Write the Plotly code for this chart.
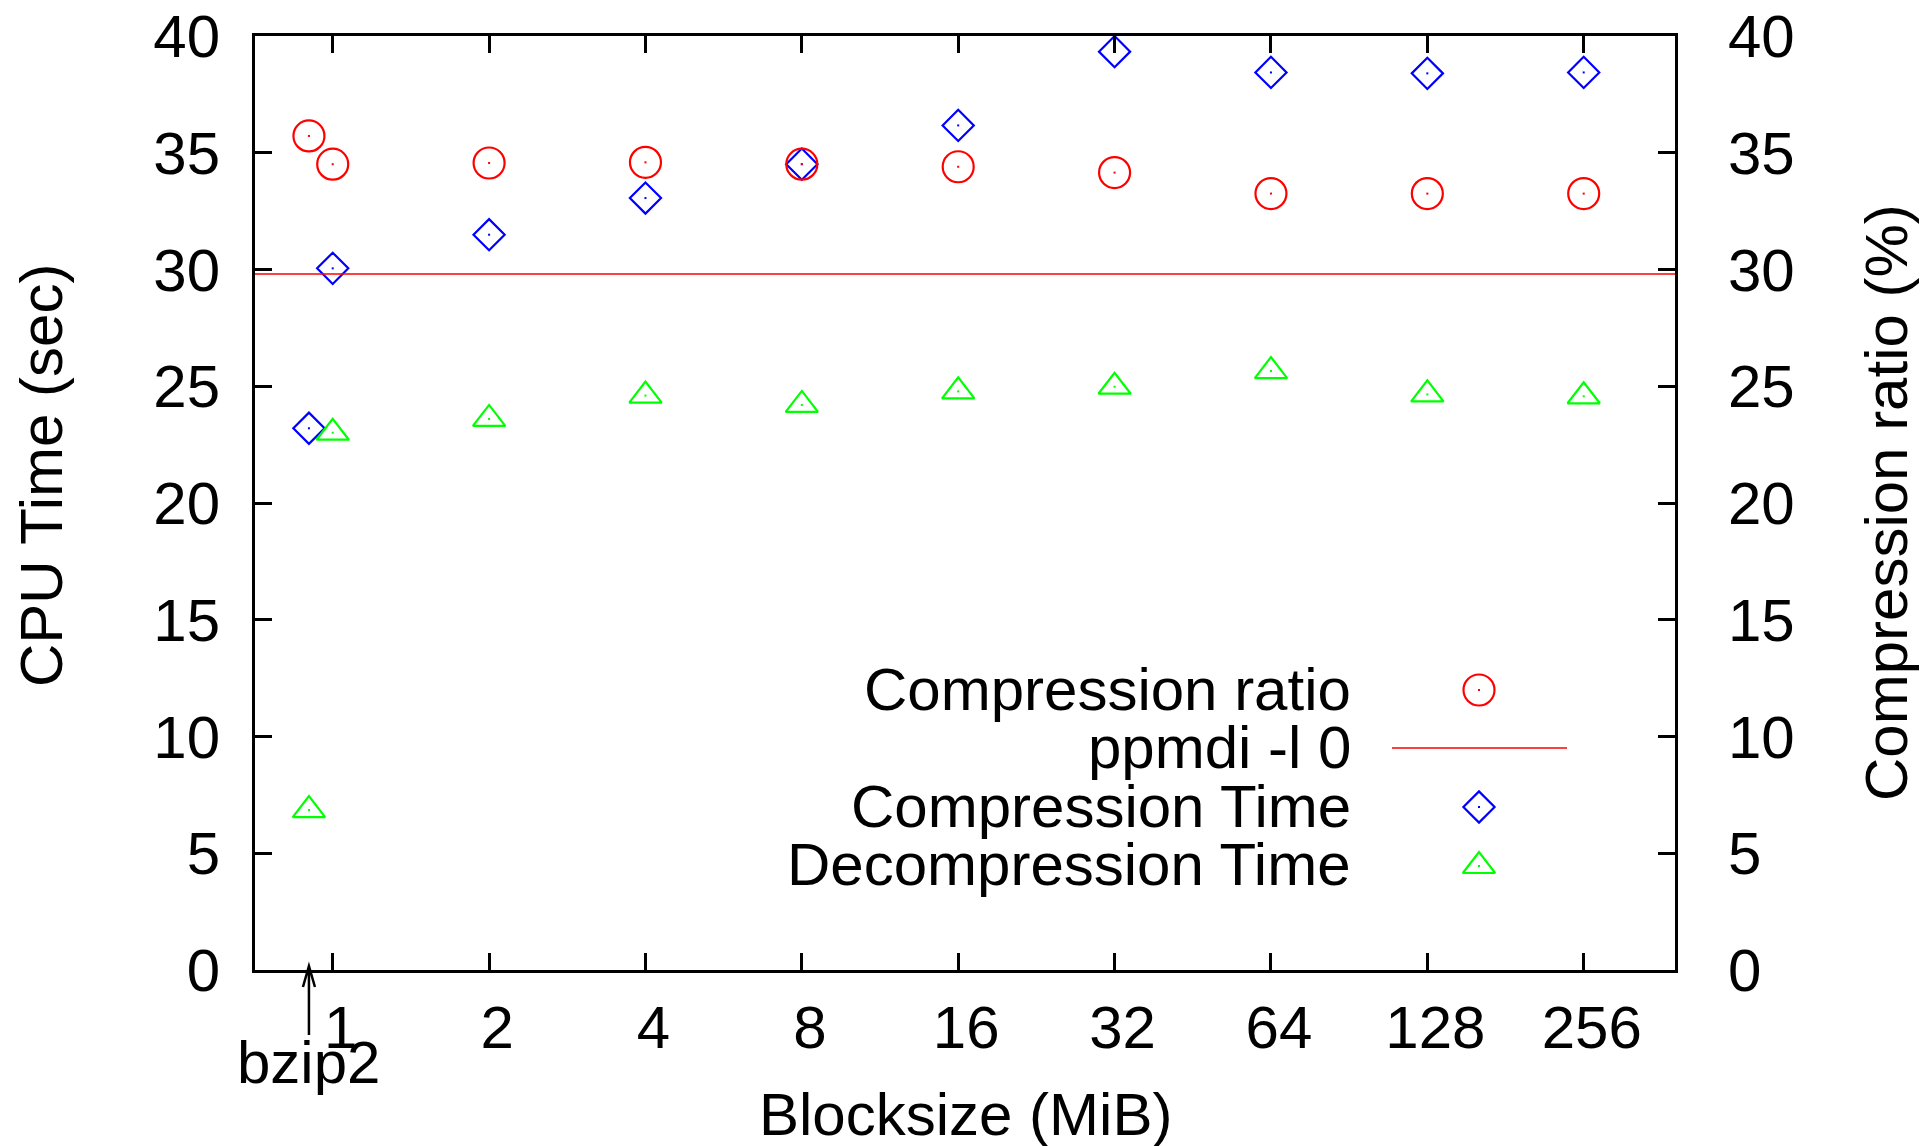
import math
import plotly.graph_objects as go

# ---------------- data ----------------
blocksize = [0.9, 1, 2, 4, 8, 16, 32, 64, 128, 256]          # MiB (0.9 = bzip2)
compression_ratio = [35.72, 34.51, 34.56, 34.59, 34.51, 34.40, 34.15, 33.25, 33.25, 33.25]
compression_time = [23.20, 30.05, 31.49, 33.06, 34.51, 36.17, 39.33, 38.44, 38.40, 38.44]
decompression_time = [6.85, 23.01, 23.60, 24.60, 24.20, 24.78, 24.98, 25.65, 24.65, 24.57]
ppmdi_ratio = 29.81
bzip2_blocksize = 0.9

x_tick_vals = [1, 2, 4, 8, 16, 32, 64, 128, 256]
x_tick_text = ["1", "2", "4", "8", "16", "32", "64", "128", "256"]
y_tick_vals = [0, 5, 10, 15, 20, 25, 30, 35, 40]

legend_names = ["Compression ratio", "ppmdi -l 0", "Compression Time", "Decompression Time"]

# ---------------- style ----------------
FONT = "Liberation Sans, Arial, sans-serif"
FS = 60
RED, BLUE, GREEN = "#ff0000", "#0000ff", "#00ff00"
W, H = 1923, 1146
L, R, T, B = 255, 248, 36, 176
PW, PH = W - L - R, H - T - B
AXW = 2.8


def px_x(px):
    return (px - L) / PW


def px_y(py):
    return (H - B - py) / PH


fig = go.Figure()

series = [
    (compression_ratio, "y2", "circle-open", 31, RED, legend_names[0]),
    (compression_time, "y", "diamond-open", 24, BLUE, legend_names[2]),
    (decompression_time, "y", "triangle-up-open", 28, GREEN, legend_names[3]),
]
for vals, yax, sym, size, col, name in series:
    fig.add_trace(go.Scatter(
        x=blocksize, y=vals, yaxis=yax, mode="markers", name=name,
        marker=dict(symbol=sym, size=size, color=col, line=dict(color=col, width=2.2)),
        cliponaxis=False, showlegend=False))
    fig.add_trace(go.Scatter(
        x=blocksize, y=vals, yaxis=yax, mode="markers", hoverinfo="skip",
        marker=dict(symbol="square", size=2, color=col, line=dict(width=0)),
        cliponaxis=False, showlegend=False))

# ppmdi reference line
fig.add_shape(type="line", xref="x domain", x0=0, x1=1, yref="y2", y0=ppmdi_ratio, y1=ppmdi_ratio,
              line=dict(color=RED, width=1.6))

# bzip2 arrow (stem + open head), anchored at the bzip2 block size on the x axis
fig.add_shape(type="path", xref="x", yref="paper", xsizemode="pixel", ysizemode="pixel",
              xanchor=bzip2_blocksize, yanchor=0,
              path="M0,-65 L0,4 M-6,-17 L0,4 L6,-17",
              line=dict(color="black", width=2.5))
fig.add_annotation(x=math.log10(bzip2_blocksize), xref="x", yref="paper", y=0,
                   yshift=-(1062 - (H - B)), text="bzip2", showarrow=False,
                   font=dict(family=FONT, size=FS, color="black"),
                   xanchor="center", yanchor="middle")

# ---------- custom legend (text left, sample right) ----------
leg_y = [689, 747, 806, 864]
for name, py in zip(legend_names, leg_y):
    fig.add_annotation(x=px_x(1353), y=px_y(py), xref="paper", yref="paper", text=name,
                       showarrow=False, xanchor="right", yanchor="middle",
                       font=dict(family=FONT, size=FS, color="black"))

leg_marker_x = px_x(1479)
fig.add_trace(go.Scatter(x=[leg_marker_x], y=[px_y(690)], xaxis="x3", yaxis="y3", mode="markers",
                         marker=dict(symbol="circle-open", size=31, color=RED, line=dict(color=RED, width=2.2)),
                         showlegend=False, hoverinfo="skip", cliponaxis=False))
fig.add_trace(go.Scatter(x=[px_x(1392), px_x(1567)], y=[px_y(748), px_y(748)], xaxis="x3", yaxis="y3",
                         mode="lines", line=dict(color=RED, width=1.6),
                         showlegend=False, hoverinfo="skip", cliponaxis=False))
fig.add_trace(go.Scatter(x=[leg_marker_x], y=[px_y(807)], xaxis="x3", yaxis="y3", mode="markers",
                         marker=dict(symbol="diamond-open", size=24, color=BLUE, line=dict(color=BLUE, width=2.2)),
                         showlegend=False, hoverinfo="skip", cliponaxis=False))
fig.add_trace(go.Scatter(x=[leg_marker_x], y=[px_y(866)], xaxis="x3", yaxis="y3", mode="markers",
                         marker=dict(symbol="triangle-up-open", size=28, color=GREEN, line=dict(color=GREEN, width=2.2)),
                         showlegend=False, hoverinfo="skip", cliponaxis=False))
for py, col in [(690, RED), (807, BLUE), (866, GREEN)]:
    fig.add_trace(go.Scatter(x=[leg_marker_x], y=[px_y(py)], xaxis="x3", yaxis="y3", mode="markers",
                             marker=dict(symbol="square", size=2, color=col, line=dict(width=0)),
                             showlegend=False, hoverinfo="skip", cliponaxis=False))

# ---------- axis titles ----------
fig.add_annotation(x=0.5, y=0, xref="paper", yref="paper", yshift=-144, text="Blocksize (MiB)",
                   showarrow=False, xanchor="center", yanchor="middle",
                   font=dict(family=FONT, size=FS, color="black"))
fig.add_annotation(x=0, y=px_y(476), xref="paper", yref="paper", xshift=41 - L, text="CPU Time (sec)",
                   showarrow=False, textangle=-90, xanchor="center", yanchor="middle",
                   font=dict(family=FONT, size=FS, color="black"))
fig.add_annotation(x=1, y=px_y(503), xref="paper", yref="paper", xshift=1886 - (W - R),
                   text="Compression ratio (%)",
                   showarrow=False, textangle=-90, xanchor="center", yanchor="middle",
                   font=dict(family=FONT, size=FS, color="black"))

x_range = [math.log10(0.7086), math.log10(383.7)]
tickfont = dict(family=FONT, size=FS, color="black")
fig.update_layout(
    template="none",
    width=W, height=H, autosize=False,
    margin=dict(l=L, r=R, t=T, b=B, pad=0, autoexpand=False),
    paper_bgcolor="white", plot_bgcolor="white",
    showlegend=False,
    font=dict(family=FONT, size=FS, color="black"),
    xaxis=dict(type="log", range=x_range, tickvals=x_tick_vals, ticktext=x_tick_text,
               ticks="inside", ticklen=17, tickwidth=AXW, tickcolor="black",
               showline=True, linewidth=AXW, linecolor="black", mirror="ticks",
               showgrid=False, zeroline=False, tickfont=tickfont, automargin=False,
               ticklabelstandoff=3, ticklabelshift=8),
    yaxis=dict(range=[0, 40], tickvals=y_tick_vals, ticks="inside", ticklen=17, tickwidth=AXW,
               tickcolor="black", showline=True, linewidth=AXW, linecolor="black", mirror=True,
               showgrid=False, zeroline=False, tickfont=tickfont, automargin=False,
               ticklabelstandoff=20),
    yaxis2=dict(range=[0, 40], tickvals=y_tick_vals, overlaying="y", side="right", anchor="x",
                ticks="inside", ticklen=17, tickwidth=AXW, tickcolor="black",
                showline=True, linewidth=AXW, linecolor="black", automargin=False,
                showgrid=False, zeroline=False, tickfont=tickfont, ticklabelstandoff=38),
    xaxis3=dict(range=[0, 1], overlaying="x", visible=False, fixedrange=True, automargin=False),
    yaxis3=dict(range=[0, 1], overlaying="y", visible=False, fixedrange=True, automargin=False),
)

fig.write_html("out.html", config={"displayModeBar": False},
               post_script="document.body.style.margin='0';")
